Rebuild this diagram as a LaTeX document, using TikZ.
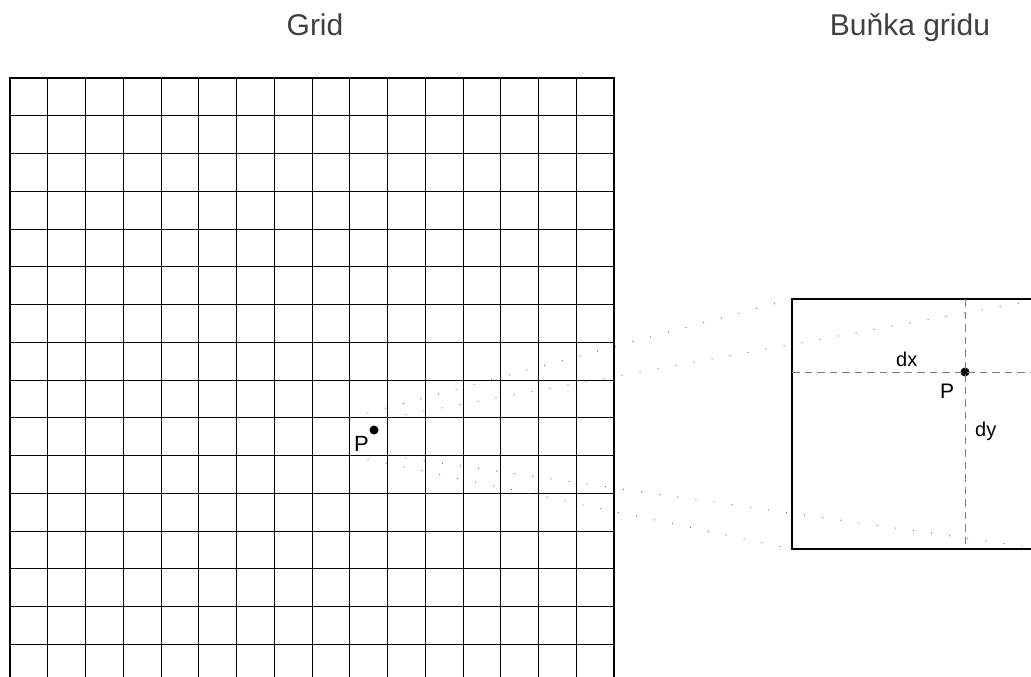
\documentclass[tikz,border=0pt]{standalone}
\usepackage{fontspec}
\setmainfont{Liberation Sans}
\usetikzlibrary{positioning}
\definecolor{titlegray}{RGB}{64,64,64}
\definecolor{guidegray}{RGB}{105,105,105}
\definecolor{dashgray}{RGB}{125,125,125}

\begin{document}
\begin{tikzpicture}[x=1pt, y=-1pt, >=latex,
    heading/.style={font=\fontsize{30}{36}\selectfont, text=titlegray, inner sep=0pt, anchor=base},
    lbl/.style={font=\fontsize{20}{24}\selectfont, inner sep=0pt, anchor=base west},
    gridline/.style={line width=1pt},
    guide/.style={guidegray, line width=1pt, dash pattern=on 0.9pt off 17.4pt},
    crossline/.style={dashgray, line width=1pt, dash pattern=on 7.5pt off 5pt},
    dot/.style={circle, fill=black, inner sep=0pt, minimum size=9pt}]
	%Bildbereich
	\useasboundingbox (0,0) rectangle (1031,677);
	\clip (0,0) rectangle (1031,677);
	% Ueberschriften
	\node[heading] (tgrid) at (315,36) {Grid};
	\node[heading] (tcell) at (910,36) {Buňka gridu};
	% Mrizka zeichnen
	\foreach \i in {0,...,16} {
		\draw[gridline] (10+37.75*\i,78) -- (10+37.75*\i,682);
		\draw[gridline] (10,78+37.75*\i) -- (614,78+37.75*\i);
	}
	\draw[line width=1.8pt] (10,682) -- (10,78) -- (614,78) -- (614,682);
	% Eckpunkte der Zelle und des Ausschnitts
	\coordinate (cnw) at (349.75,417.75);
	\coordinate (cne) at (387.5,417.75);
	\coordinate (csw) at (349.75,455.5);
	\coordinate (cse) at (387.5,455.5);
	\coordinate (bnw) at (792,299);
	\coordinate (bne) at (1042,299);
	\coordinate (bsw) at (792,549);
	\coordinate (bse) at (1042,549);
	% Hilfslinien
	\draw[guide] (cnw) -- (bnw);
	\draw[guide] (cne) -- (bne);
	\draw[guide] (csw) -- (bsw);
	\draw[guide] (cse) -- (bse);
	% Ausschnitt
	\draw[line width=1.3pt] (bnw) rectangle (bse);
	\node[dot] (pbox) at (965,372) {};
	\draw[crossline] (bnw |- pbox) -- (bne |- pbox);
	\draw[crossline] (pbox |- bnw) -- (pbox |- bsw);
	\node[dot] (pgrid) at (374,430) {};
	%Beschriftung
	\node[lbl] (lp) at (354,451.5) {\fontsize{22}{26}\selectfont P};
	\node[lbl] (ldx) at (896,366.5) {dx};
	\node[lbl] (lpb) at (940,398) {\fontsize{21}{25}\selectfont P};
	\node[lbl] (ldy) at (975,436.5) {dy};
\end{tikzpicture}
\end{document}
